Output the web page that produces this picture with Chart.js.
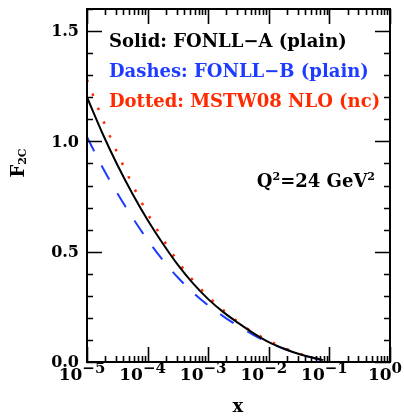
<!DOCTYPE html>
<html>
<head>
<meta charset="utf-8">
<script src="https://cdn.jsdelivr.net/npm/chart.js@4/dist/chart.umd.min.js"></script>
<style>
  html, body { margin: 0; padding: 0; background: #fff; }
  canvas { display: block; }
</style>
</head>
<body>
<canvas id="c" width="404" height="416"></canvas>
<script>
// Bjorken x values (log-spaced, quarter-decade steps)
const xValues = [1e-5, 1.78e-5, 3.16e-5, 5.62e-5, 1e-4, 1.78e-4, 3.16e-4, 5.62e-4,
                 1e-3, 1.78e-3, 3.16e-3, 5.62e-3, 1e-2, 1.78e-2, 3.16e-2, 5.62e-2, 7.9e-2];

// F2c at Q^2 = 24 GeV^2
const fonllA = [1.20, 1.039, 0.894, 0.763, 0.644, 0.537, 0.44, 0.356,
                0.285, 0.226, 0.176, 0.13, 0.09, 0.06, 0.036, 0.018, 0.009];
const fonllB = [1.02, 0.885, 0.765, 0.655, 0.553, 0.462, 0.383, 0.315,
                0.257, 0.207, 0.162, 0.122, 0.088, 0.06, 0.036, 0.017, 0.007];
const mstw08 = [1.28, 1.105, 0.949, 0.804, 0.673, 0.558, 0.456, 0.37,
                0.297, 0.235, 0.18, 0.133, 0.097, 0.064, 0.038, 0.018, 0.008];

// axis ticks
const yTickValues = [0, 0.5, 1.0, 1.5];
const yTickLabels = ['0.0', '0.5', '1.0', '1.5'];
const xDecades = [-5, -4, -3, -2, -1, 0];

const legendLines = [
  { text: 'Solid: FONLL\u2212A (plain)', color: '#000000' },
  { text: 'Dashes: FONLL\u2212B (plain)', color: '#1e3cff' },
  { text: 'Dotted: MSTW08 NLO (nc)', color: '#ff2a00' }
];

const FONT = '"DejaVu Serif", serif';
const toPoints = ys => xValues.map((x, i) => ({ x: x, y: ys[i] }));

// text runs are [text, size, dy]
function runsWidth(ctx, runs) {
  let w = 0;
  for (const r of runs) { ctx.font = 'bold ' + r[1] + 'px ' + FONT; w += ctx.measureText(r[0]).width; }
  return w;
}
function drawRuns(ctx, runs, x, y, color) {
  ctx.fillStyle = color;
  ctx.textBaseline = 'alphabetic';
  ctx.textAlign = 'left';
  let cx = x;
  for (const r of runs) {
    ctx.font = 'bold ' + r[1] + 'px ' + FONT;
    ctx.fillText(r[0], cx, y + (r[2] || 0));
    cx += ctx.measureText(r[0]).width;
  }
}

const framePlugin = {
  id: 'frame',
  afterDraw(chart) {
    const ctx = chart.ctx;
    const a = chart.chartArea;
    const xs = chart.scales.x, ys = chart.scales.y;
    ctx.save();
    ctx.strokeStyle = '#000';
    ctx.lineCap = 'butt';

    // ticks on all four sides, pointing inward
    ctx.lineWidth = 1.6;
    ctx.beginPath();
    for (let k = 0; k <= 16; k++) {
      const v = k / 10;
      const py = Math.round(ys.getPixelForValue(v)) + 0.5;
      const len = (k % 5 === 0) ? 15 : 6;
      ctx.moveTo(a.left, py); ctx.lineTo(a.left + len, py);
      ctx.moveTo(a.right, py); ctx.lineTo(a.right - len, py);
    }
    for (const e of xDecades) {
      for (let m = 1; m <= 9; m++) {
        if (e === 0 && m > 1) break;
        const px = Math.round(xs.getPixelForValue(m * Math.pow(10, e))) + 0.5;
        const len = (m === 1) ? 15 : 6;
        ctx.moveTo(px, a.bottom); ctx.lineTo(px, a.bottom - len);
        ctx.moveTo(px, a.top); ctx.lineTo(px, a.top + len);
      }
    }
    ctx.stroke();

    // frame
    ctx.lineWidth = 2;
    ctx.strokeRect(a.left, a.top, a.right - a.left, a.bottom - a.top);

    // y tick labels
    ctx.fillStyle = '#000';
    ctx.font = 'bold 16px ' + FONT;
    ctx.textAlign = 'right';
    ctx.textBaseline = 'middle';
    yTickValues.forEach((v, i) => {
      ctx.fillText(yTickLabels[i], a.left - 8, ys.getPixelForValue(v) + 1);
    });

    // x tick labels: 10^n
    for (const e of xDecades) {
      const px = xs.getPixelForValue(Math.pow(10, e));
      const exp = e < 0 ? '\u2212' + (-e) : String(e);
      const runs = [['10', 17, 0], [exp, 15, -7]];
      const w = runsWidth(ctx, runs);
      drawRuns(ctx, runs, px - 5 - w / 2, a.bottom + 18, '#000');
    }

    // axis titles
    drawRuns(ctx, [['x', 18, 0]], (a.left + a.right) / 2 - 6, 412, '#000');

    ctx.save();
    ctx.translate(24, 163);
    ctx.rotate(-Math.PI / 2);
    const yRuns = [['F', 18, 0], ['2C', 11, 2]];
    drawRuns(ctx, yRuns, -runsWidth(ctx, yRuns) / 2, 0, '#000');
    ctx.restore();

    // legend text
    legendLines.forEach((l, i) => {
      drawRuns(ctx, [[l.text, 18, 0]], a.left + 22, 47 + i * 30, l.color);
    });

    // kinematics
    const qRuns = [['Q', 18, 0], ['2', 11, -7], ['=24 GeV', 18, 0], ['2', 11, -7]];
    drawRuns(ctx, qRuns, 375 - runsWidth(ctx, qRuns), 187, '#000');

    ctx.restore();
  }
};

new Chart(document.getElementById('c'), {
  type: 'line',
  data: {
    datasets: [
      { label: 'FONLL-A', data: toPoints(fonllA), borderColor: '#000000', borderWidth: 2,
        pointRadius: 0, cubicInterpolationMode: 'monotone', fill: false },
      { label: 'FONLL-B', data: toPoints(fonllB), borderColor: '#1e3cff', borderWidth: 2,
        borderDash: [16, 16], pointRadius: 0, cubicInterpolationMode: 'monotone', fill: false },
      { label: 'MSTW08 NLO', data: toPoints(mstw08), borderColor: '#ff2a00', borderWidth: 2.5,
        borderDash: [2.5, 12.5], pointRadius: 0, cubicInterpolationMode: 'monotone', fill: false }
    ]
  },
  options: {
    responsive: false,
    animation: false,
    devicePixelRatio: 1,
    layout: { padding: { left: 87, right: 14, top: 9, bottom: 54 } },
    plugins: { legend: { display: false }, tooltip: { enabled: false } },
    scales: {
      x: { type: 'logarithmic', min: 1e-5, max: 1, display: false },
      y: { type: 'linear', min: 0, max: 1.6, display: false }
    }
  },
  plugins: [framePlugin]
});
</script>
</body>
</html>
